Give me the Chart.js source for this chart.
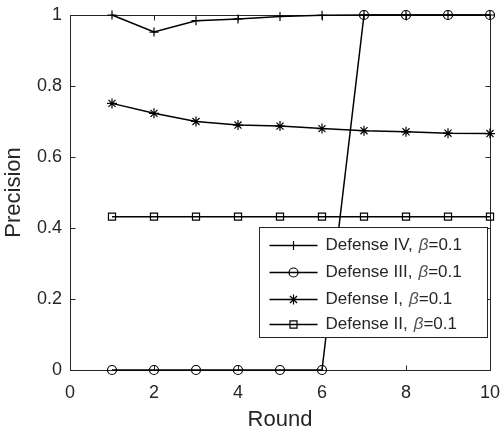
<!DOCTYPE html>
<html>
<head>
<meta charset="utf-8">
<script src="https://cdn.jsdelivr.net/npm/chart.js@4/dist/chart.umd.min.js"></script>
<style>
  body { margin: 0; background: #fff; }
  #wrap { width: 501px; height: 437px; }
</style>
</head>
<body>
<div id="wrap"><canvas id="precisionChart"></canvas></div>
<script>
// data
const rounds = [1, 2, 3, 4, 5, 6, 7, 8, 9, 10];
const defenseIV = [1, 0.952, 0.984, 0.989, 0.996, 0.999, 1, 1, 1, 1];
const defenseIII = [0, 0, 0, 0, 0, 0, 1, 1, 1, 1];
const defenseI = [0.751, 0.723, 0.700, 0.690, 0.687, 0.680, 0.674, 0.671, 0.667, 0.666];
const defenseII = [0.432, 0.432, 0.432, 0.432, 0.432, 0.432, 0.432, 0.432, 0.432, 0.432];
const seriesNames = ['Defense IV,', 'Defense III,', 'Defense I,', 'Defense II,'];
const xTicks = [0, 2, 4, 6, 8, 10];
const yTicks = [0, 0.2, 0.4, 0.6, 0.8, 1];

const axisColor = '#262626';
const fontFamily = '"Liberation Sans", Arial, Helvetica, sans-serif';
const legendFont = 17;

function toPoints(vals) {
    return rounds.map(function(r, i) { return { x: r, y: vals[i] }; });
}

const markers = [
    { style: 'cross', radius: 4.5 },
    { style: 'circle', radius: 4.5 },
    { style: 'star', radius: 5 },
    { style: 'rect', radius: 5 }
];
const allSeries = [defenseIV, defenseIII, defenseI, defenseII];

const datasets = allSeries.map(function(vals, i) {
    return {
        label: seriesNames[i] + ' β=0.1',
        data: toPoints(vals),
        borderColor: '#000',
        borderWidth: 1.5,
        backgroundColor: 'rgba(0,0,0,0)',
        pointStyle: markers[i].style,
        pointRadius: markers[i].radius,
        pointBorderColor: '#000',
        pointBorderWidth: 1.2,
        pointBackgroundColor: 'rgba(0,0,0,0)',
        tension: 0,
        clip: false
    };
});

// box around the axes with inward ticks (matlab style), plus legend drawn inside
const matlabAxes = {
    id: 'matlabAxes',
    beforeDatasetsDraw: function(chart) {
        const ctx = chart.ctx;
        const a = chart.chartArea;
        const xs = chart.scales.x, ys = chart.scales.y;
        const L = Math.round(a.left) + 0.5, R = Math.round(a.right) + 0.5;
        const T = Math.round(a.top) + 0.5, B = Math.round(a.bottom) + 0.5;
        ctx.save();
        ctx.strokeStyle = axisColor;
        ctx.lineWidth = 1;
        ctx.strokeRect(L, T, R - L, B - T);
        ctx.beginPath();
        xTicks.forEach(function(v) {
            const px = Math.round(xs.getPixelForValue(v)) + 0.5;
            ctx.moveTo(px, B); ctx.lineTo(px, B - 5);
            ctx.moveTo(px, T); ctx.lineTo(px, T + 5);
        });
        yTicks.forEach(function(v) {
            const py = Math.round(ys.getPixelForValue(v)) + 0.5;
            ctx.moveTo(L, py); ctx.lineTo(L + 5, py);
            ctx.moveTo(R, py); ctx.lineTo(R - 5, py);
        });
        ctx.stroke();
        ctx.restore();
    },
    afterDatasetsDraw: function(chart) {
        const ctx = chart.ctx;
        const a = chart.chartArea;
        const boxW = 228, boxH = 110;
        const bx = Math.round(a.right - 3 - boxW) + 0.5;
        const by = Math.round(a.bottom - 33 - boxH) + 0.5;
        ctx.save();
        ctx.fillStyle = '#fff';
        ctx.fillRect(bx, by, boxW, boxH);
        ctx.strokeStyle = axisColor;
        ctx.lineWidth = 1;
        ctx.strokeRect(bx, by, boxW, boxH);
        const rowY = [18, 45, 72, 97];
        datasets.forEach(function(ds, i) {
            const y = by + rowY[i];
            ctx.strokeStyle = '#000';
            ctx.lineWidth = 1.5;
            ctx.beginPath();
            ctx.moveTo(bx + 10, y);
            ctx.lineTo(bx + 58, y);
            ctx.stroke();
            ctx.lineWidth = 1.2;
            ctx.fillStyle = 'rgba(0,0,0,0)';
            Chart.helpers.drawPoint(ctx, {
                pointStyle: markers[i].style,
                radius: markers[i].radius,
                rotation: 0,
                borderWidth: 1.2
            }, bx + 34, y);
            // text: name, italic beta, rest
            ctx.textBaseline = 'middle';
            ctx.textAlign = 'left';
            let tx = bx + 66;
            ctx.fillStyle = axisColor;
            ctx.font = legendFont + 'px ' + fontFamily;
            ctx.fillText(seriesNames[i], tx, y);
            tx += ctx.measureText(seriesNames[i]).width + 6;
            ctx.font = 'italic ' + legendFont + 'px ' + fontFamily;
            ctx.fillStyle = '#555';
            ctx.fillText('β', tx, y);
            tx += ctx.measureText('β').width;
            ctx.font = legendFont + 'px ' + fontFamily;
            ctx.fillStyle = axisColor;
            ctx.fillText('=0.1', tx, y);
        });
        ctx.restore();
    }
};

new Chart(document.getElementById('precisionChart'), {
    type: 'line',
    data: { datasets: datasets },
    options: {
        responsive: true,
        maintainAspectRatio: false,
        animation: false,
        layout: { padding: { top: 15, right: 11, left: 0, bottom: 0 } },
        scales: {
            x: {
                type: 'linear',
                min: 0,
                max: 10,
                afterFit: function(scale) {
                    scale.height = 67;
                    scale.paddingLeft = 0;
                    scale.paddingRight = 0;
                },
                afterBuildTicks: function(scale) {
                    scale.ticks = xTicks.map(function(v) { return { value: v }; });
                },
                grid: { display: false, drawTicks: false },
                border: { display: false },
                ticks: {
                    padding: 12,
                    color: axisColor,
                    font: { family: fontFamily, size: 18 },
                    maxRotation: 0
                },
                title: {
                    display: true,
                    text: 'Round',
                    color: axisColor,
                    font: { family: fontFamily, size: 22 },
                    padding: { top: 0, bottom: 4 }
                }
            },
            y: {
                min: 0,
                max: 1,
                afterFit: function(scale) {
                    scale.width = 70;
                    scale.paddingTop = 0;
                    scale.paddingBottom = 0;
                },
                afterBuildTicks: function(scale) {
                    scale.ticks = yTicks.map(function(v) { return { value: v }; });
                },
                grid: { display: false, drawTicks: false },
                border: { display: false },
                ticks: {
                    padding: 8,
                    color: axisColor,
                    font: { family: fontFamily, size: 18 },
                    callback: function(v) { return String(Math.round(v * 10) / 10); }
                },
                title: {
                    display: true,
                    text: 'Precision',
                    color: axisColor,
                    font: { family: fontFamily, size: 22 },
                    padding: { top: 1, bottom: 0 }
                }
            }
        },
        plugins: {
            legend: { display: false },
            tooltip: { enabled: false }
        }
    },
    plugins: [matlabAxes]
});
</script>
</body>
</html>
